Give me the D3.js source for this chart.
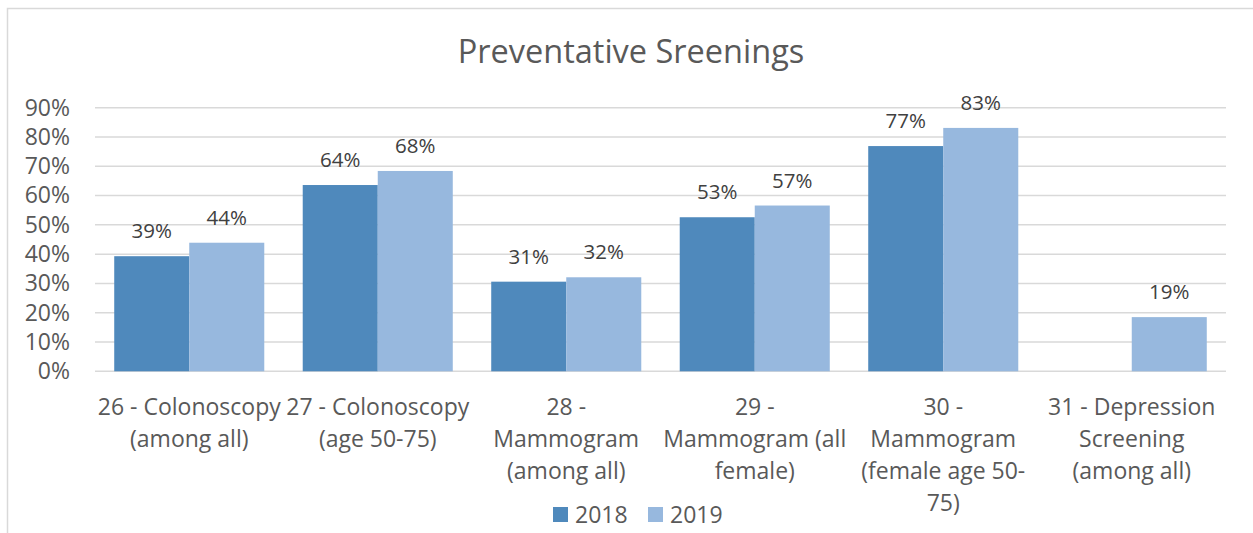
<!doctype html>
<html>
<head>
<meta charset="UTF-8">
<script src="https://d3js.org/d3.v7.min.js"></script>
<style>
    body { margin: 0; background: #fff; }
    text { font-family: "Open Sans", "Noto Sans", sans-serif; }
</style>
</head>
<body>
<svg width="1253" height="533"></svg>
<script>
// chart data
const categories = ["26", "27", "28", "29", "30", "31"];
const categoryLines = [
    ["26 - Colonoscopy", "(among all)"],
    ["27 - Colonoscopy", "(age 50-75)"],
    ["28 -", "Mammogram", "(among all)"],
    ["29 -", "Mammogram (all", "female)"],
    ["30 -", "Mammogram", "(female age 50-", "75)"],
    ["31 - Depression", "Screening", "(among all)"]
];
const seriesNames = ["2018", "2019"];
const values2018 = [0.393, 0.636, 0.306, 0.526, 0.769, null];
const values2019 = [0.439, 0.684, 0.321, 0.566, 0.831, 0.185];
const yTicks = [0, 0.1, 0.2, 0.3, 0.4, 0.5, 0.6, 0.7, 0.8, 0.9];
const colors = ["#4f89bc", "#97b8de"];

const svg = d3.select("svg");

// chart area border
svg.append("rect")
    .attr("x", 7.5).attr("y", 8.5)
    .attr("width", 1260).attr("height", 540)
    .attr("fill", "none")
    .attr("stroke", "#d9d9d9")
    .attr("stroke-width", 1.5);

const plotLeft = 95, plotRight = 1226, plotTop = 107.7, plotBottom = 371.3;

const x = d3.scaleBand()
    .domain(categories)
    .range([plotLeft, plotRight])
    .paddingInner(0.204)
    .paddingOuter(0.102);

const xSeries = d3.scaleBand()
    .domain(seriesNames)
    .range([0, x.bandwidth()]);

const y = d3.scaleLinear()
    .domain([0, 0.9])
    .range([plotBottom, plotTop]);

// title
svg.append("text")
    .attr("x", 631).attr("y", 63)
    .attr("text-anchor", "middle")
    .attr("fill", "#595959")
    .style("font-size", "32.5px")
    .text("Preventative Sreenings");

// gridlines
svg.append("g")
    .selectAll("line")
    .data(yTicks)
    .join("line")
    .attr("x1", plotLeft).attr("x2", plotRight)
    .attr("y1", d => y(d)).attr("y2", d => y(d))
    .attr("stroke", "#d9d9d9")
    .attr("stroke-width", 1.5);

// y axis labels
const yAxis = svg.append("g")
    .attr("transform", "translate(" + (plotLeft - 8) + ",0)")
    .call(d3.axisLeft(y).tickValues(yTicks).tickFormat(d3.format(".0%")).tickSize(0).tickPadding(17));
yAxis.select(".domain").remove();
yAxis.selectAll("text")
    .attr("fill", "#595959")
    .style("font-size", "23px")
    .style("font-family", "'Open Sans', 'Noto Sans', sans-serif");

// bars
const series = [values2018, values2019];
series.forEach(function(vals, si) {
    const g = svg.append("g");
    const pts = categories.map((c, i) => ({ c: c, v: vals[i] })).filter(d => d.v != null);
    g.selectAll("rect")
        .data(pts)
        .join("rect")
        .attr("x", d => x(d.c) + xSeries(seriesNames[si]))
        .attr("y", d => y(d.v))
        .attr("width", xSeries.bandwidth())
        .attr("height", d => plotBottom - y(d.v))
        .attr("fill", colors[si]);
    g.selectAll("text")
        .data(pts)
        .join("text")
        .attr("x", d => x(d.c) + xSeries(seriesNames[si]) + xSeries.bandwidth() / 2)
        .attr("y", d => y(d.v) - 18)
        .attr("text-anchor", "middle")
        .attr("fill", "#404040")
        .style("font-size", "20.5px")
        .text(d => Math.round(d.v * 100) + "%");
});

// x axis labels
const xl = svg.append("g");
categories.forEach(function(c, i) {
    const t = xl.append("text")
        .attr("text-anchor", "middle")
        .attr("fill", "#595959")
        .style("font-size", "23px");
    categoryLines[i].forEach(function(line, li) {
        t.append("tspan")
            .attr("x", x(c) + x.bandwidth() / 2)
            .attr("y", 415 + li * 32)
            .text(line);
    });
});

// legend
const legend = svg.append("g");
const legendX = [553, 648];
seriesNames.forEach(function(name, i) {
    legend.append("rect")
        .attr("x", legendX[i]).attr("y", 507)
        .attr("width", 15).attr("height", 15)
        .attr("fill", colors[i]);
    legend.append("text")
        .attr("x", legendX[i] + 22).attr("y", 523)
        .attr("fill", "#595959")
        .style("font-size", "23px")
        .text(name);
});
</script>
</body>
</html>
